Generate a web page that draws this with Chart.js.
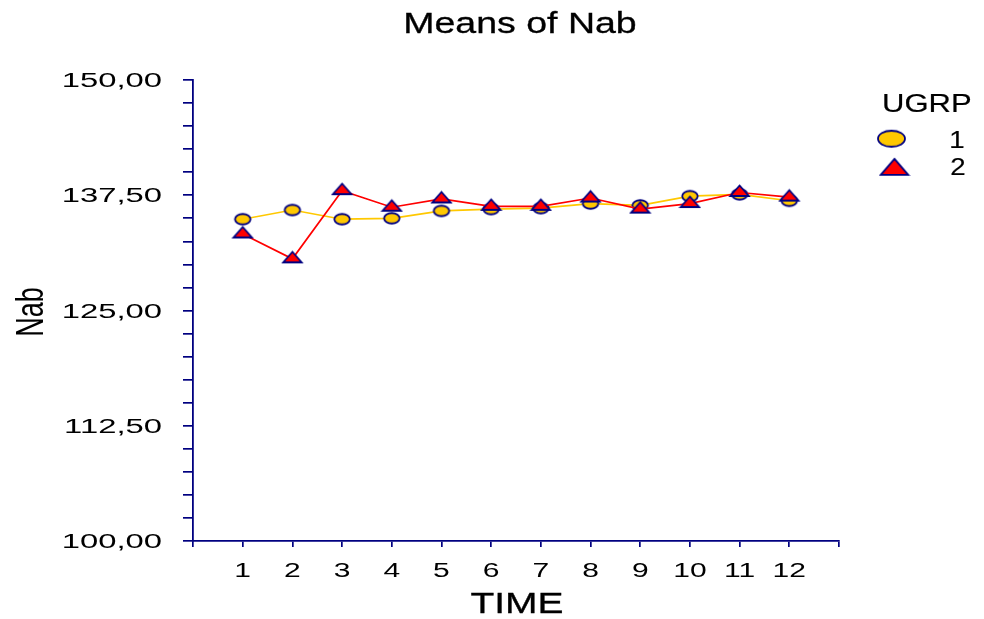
<!DOCTYPE html>
<html>
<head>
<meta charset="utf-8">
<title>Means of Nab</title>
<script src="https://cdn.jsdelivr.net/npm/chart.js@4/dist/chart.umd.min.js"></script>
<style>
  html, body { margin: 0; padding: 0; background: #ffffff; }
  #wrap { width: 984px; height: 619px; }
</style>
</head>
<body>
<div id="wrap"><canvas id="chart" width="984" height="619"></canvas></div>
<script>
// Mean Nab per time point, for each UGRP group
const timePoints = [1, 2, 3, 4, 5, 6, 7, 8, 9, 10, 11, 12];
const group1Means = [134.9, 135.9, 134.9, 135.0, 135.8, 136.0, 136.1, 136.6, 136.4, 137.4, 137.6, 136.9];
const group2Means = [133.3, 130.6, 138.0, 136.2, 137.1, 136.3, 136.3, 137.2, 136.0, 136.6, 137.8, 137.3];
const groupNames = ['1', '2'];
const yLabelValues = [100, 112.5, 125, 137.5, 150];

const chartTitle = 'Means of Nab';
const xTitle = 'TIME';
const yTitle = 'Nab';
const legendTitle = 'UGRP';

const FONT = '"Liberation Sans", Arial, Helvetica, sans-serif';
const NAVY = '#000080';
const GOLD = '#FFC800';
const RED = '#FF0000';

// Marker images: a flattened circle and a flattened triangle
function ellipseMarker(w, h) {
  const c = document.createElement('canvas');
  c.width = Math.ceil(w + 4); c.height = Math.ceil(h + 4);
  const g = c.getContext('2d');
  g.beginPath();
  g.ellipse(c.width / 2, c.height / 2, w / 2, h / 2, 0, 0, Math.PI * 2);
  g.fillStyle = GOLD; g.fill();
  g.lineWidth = 1.8; g.strokeStyle = NAVY; g.stroke();
  return c;
}
function triangleMarker(w, h) {
  // centroid sits at the image centre so the line meets it there
  const c = document.createElement('canvas');
  c.width = Math.ceil(w + 4);
  c.height = Math.ceil(h * 4 / 3 + 5);
  const g = c.getContext('2d');
  const cx = c.width / 2, cy = c.height / 2;
  g.beginPath();
  g.moveTo(cx, cy - h * 2 / 3);
  g.lineTo(cx + w / 2, cy + h / 3);
  g.lineTo(cx - w / 2, cy + h / 3);
  g.closePath();
  g.fillStyle = RED; g.fill();
  g.lineWidth = 1.8; g.lineJoin = 'miter'; g.strokeStyle = NAVY; g.stroke();
  return c;
}
const circleImg = ellipseMarker(15.5, 10.5);
const triImg = triangleMarker(18.5, 10.5);
const circleLegendImg = ellipseMarker(27, 16);
const triLegendImg = triangleMarker(27.5, 16);

function fmt(v) { return v.toFixed(2).replace('.', ','); }

function stretchedText(ctx, str, x, y, size, sx, align, weight) {
  ctx.save();
  ctx.translate(x, y);
  ctx.scale(sx, 1);
  ctx.font = size + 'px ' + FONT;
  ctx.textAlign = align;
  ctx.textBaseline = 'alphabetic';
  ctx.fillStyle = '#000000';
  ctx.fillText(str, 0, 0);
  if (weight) {
    ctx.strokeStyle = '#000000';
    ctx.lineWidth = weight;
    ctx.strokeText(str, 0, 0);
  }
  ctx.restore();
}

// Titles, tick labels and legend, drawn in a wide typeface
const textPlugin = {
  id: 'wideText',
  afterDraw(chart) {
    const ctx = chart.ctx;
    const ys = chart.scales.y, xs = chart.scales.x;

    stretchedText(ctx, chartTitle, 520, 33, 30, 1.25, 'center', 0.3);

    ys.ticks.forEach((t, i) => {
      if (yLabelValues.some(v => Math.abs(v - t.value) < 1e-6)) {
        stretchedText(ctx, fmt(t.value), 162, ys.getPixelForTick(i) + 7, 20, 1.64, 'right', 0);
      }
    });
    xs.ticks.forEach((t, i) => {
      if (timePoints.includes(t.value)) {
        stretchedText(ctx, String(t.value), xs.getPixelForTick(i), 577, 20, 1.5, 'center', 0);
      }
    });

    stretchedText(ctx, xTitle, 517, 613, 30, 1.3, 'center', 0.3);

    ctx.save();
    ctx.translate(43, 312);
    ctx.scale(1.47, 1);
    ctx.rotate(-Math.PI / 2);
    ctx.font = '27px ' + FONT;
    ctx.textAlign = 'center';
    ctx.textBaseline = 'alphabetic';
    ctx.fillStyle = '#000000';
    ctx.fillText(yTitle, 0, 0);
    ctx.restore();

    stretchedText(ctx, legendTitle, 882, 112, 26.5, 1.17, 'left', 0.2);
    ctx.drawImage(circleLegendImg, 891.5 - circleLegendImg.width / 2, 138.7 - circleLegendImg.height / 2);
    ctx.drawImage(triLegendImg, 894.5 - triLegendImg.width / 2, 169.5 - triLegendImg.height / 2);
    stretchedText(ctx, groupNames[0], 957, 148, 23, 1.2, 'center', 0.2);
    stretchedText(ctx, groupNames[1], 958, 175, 23, 1.2, 'center', 0.2);
  }
};

const toPoints = arr => arr.map((v, i) => ({ x: timePoints[i], y: v }));

new Chart(document.getElementById('chart'), {
  type: 'line',
  data: {
    datasets: [
      {
        label: groupNames[0],
        data: toPoints(group1Means),
        borderColor: GOLD,
        borderWidth: 1.7,
        pointStyle: circleImg,
        order: 2,
        tension: 0
      },
      {
        label: groupNames[1],
        data: toPoints(group2Means),
        borderColor: RED,
        borderWidth: 1.7,
        pointStyle: triImg,
        order: 1,
        tension: 0
      }
    ]
  },
  options: {
    responsive: false,
    devicePixelRatio: 1,
    animation: false,
    layout: { padding: { left: 0, top: 80, right: 145, bottom: 0 } },
    plugins: {
      legend: { display: false },
      title: { display: false },
      tooltip: { enabled: false }
    },
    scales: {
      x: {
        type: 'linear',
        min: 0,
        max: 13,
        ticks: { display: false, stepSize: 1 },
        grid: { drawOnChartArea: false, drawTicks: true, tickLength: 6, color: NAVY, lineWidth: 1.7 },
        border: { display: true, color: NAVY, width: 1.8 },
        afterFit(scale) { scale.height = 78; }
      },
      y: {
        type: 'linear',
        min: 100,
        max: 150,
        ticks: { display: false, stepSize: 2.5 },
        grid: { drawOnChartArea: false, drawTicks: true, tickLength: 10, color: NAVY, lineWidth: 1.7 },
        border: { display: true, color: NAVY, width: 1.8 },
        afterFit(scale) { scale.height = undefined; scale.width = 193; }
      }
    }
  },
  plugins: [textPlugin]
});
</script>
</body>
</html>
